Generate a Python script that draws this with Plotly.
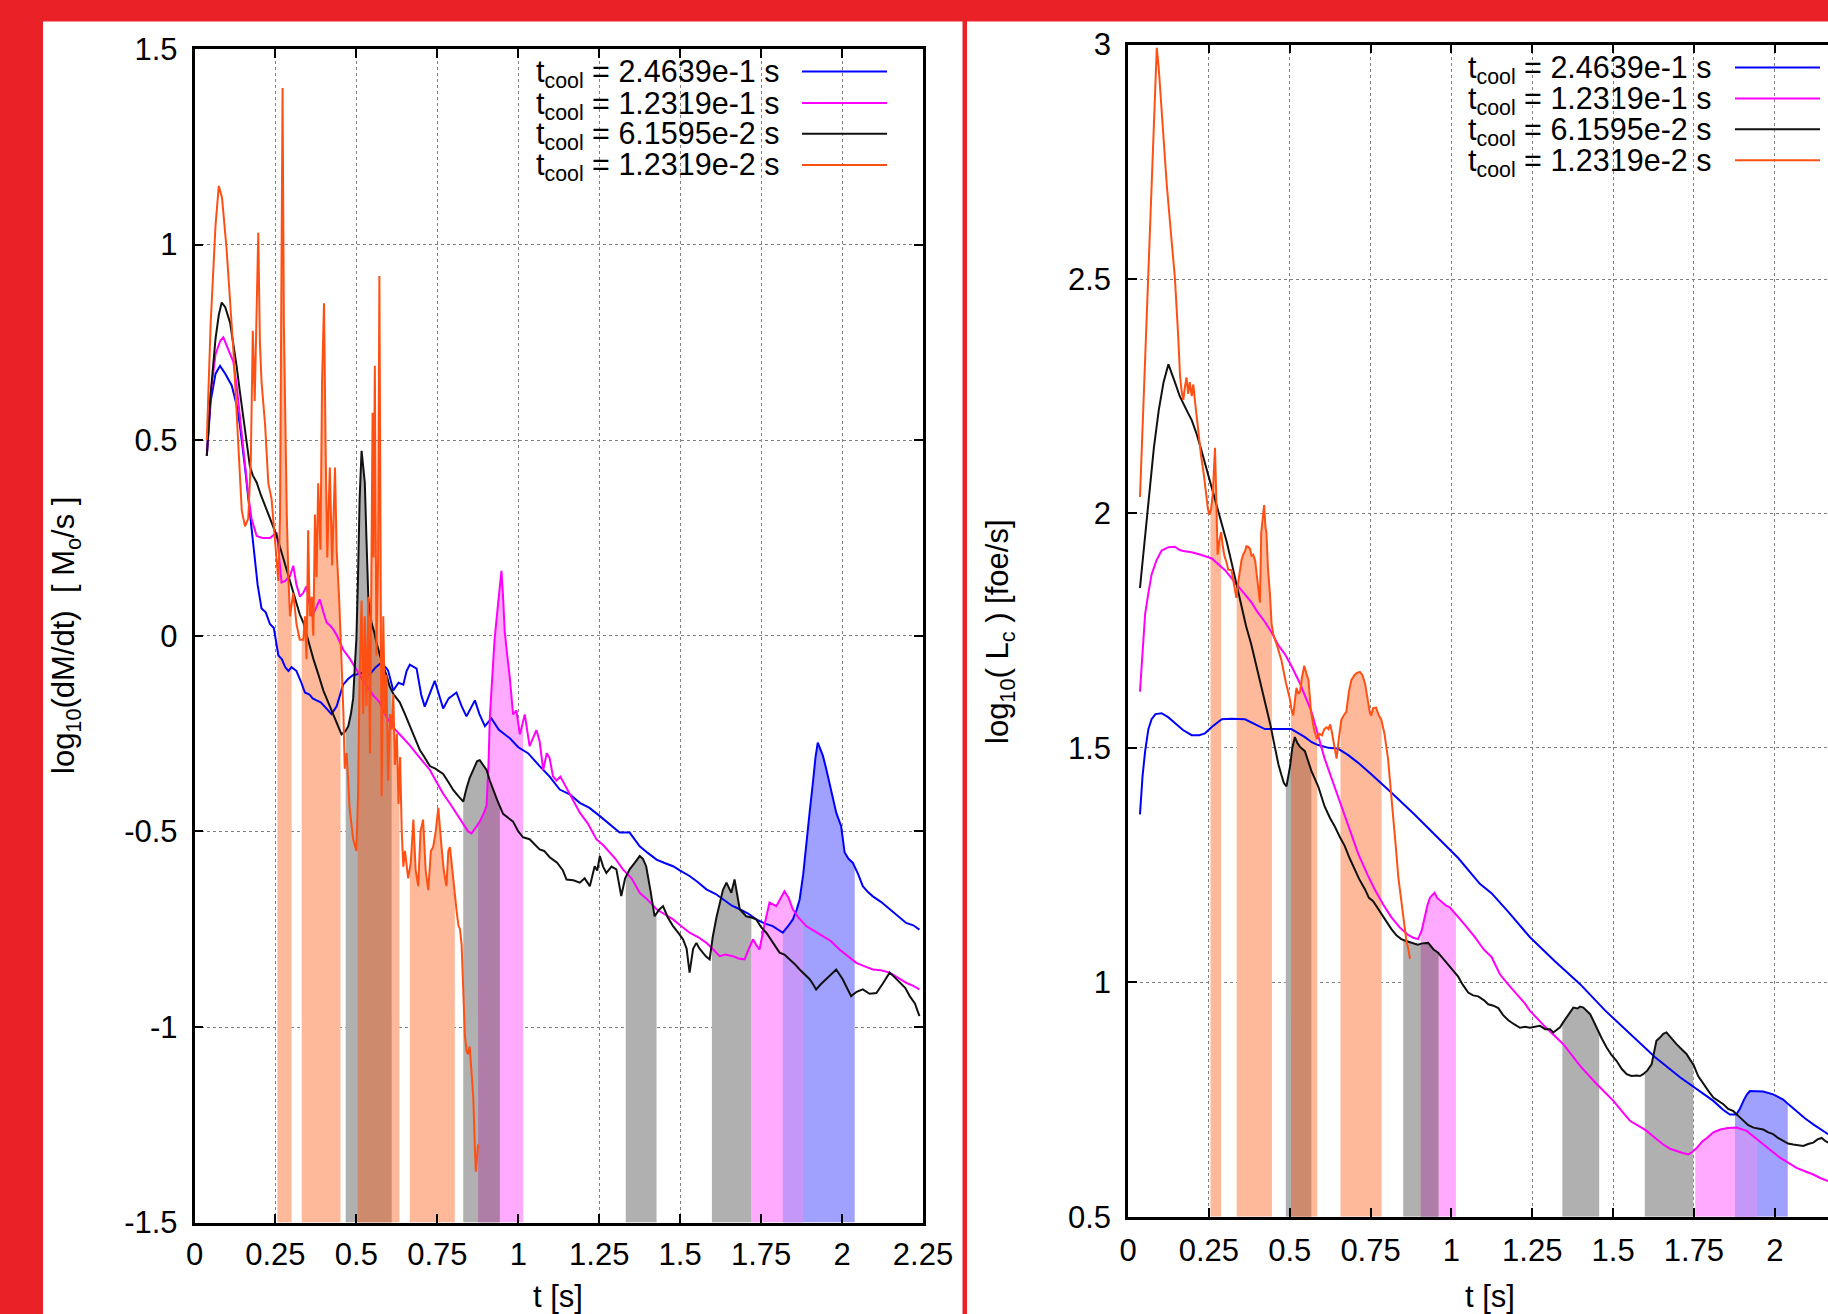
import numpy as np
import plotly.graph_objects as go

W, H = 1828, 1314
FONT = "Liberation Sans, Arial, Helvetica, sans-serif"

# ---------------- LEFT PANEL: log10(dM/dt) [Msun/s] ----------------
dm_blue_t = [0.038,0.05,0.065,0.079,0.095,0.115,0.13,0.14,0.156,0.171,0.185,0.195,0.207,0.22,0.233,0.245,0.259,0.27,0.28,0.29,0.30,0.315,0.33,0.341,0.355,0.365,0.377,0.39,0.408,0.423,0.439,0.45,0.459,0.475,0.49,0.50,0.521,0.54,0.56,0.575,0.59,0.598,0.614,0.63,0.645,0.655,0.665,0.686,0.70,0.711,0.725,0.742,0.755,0.768,0.785,0.809,0.825,0.84,0.866,0.88,0.897,0.917,0.94,0.974,1.00,1.03,1.066,1.097,1.128,1.159,1.19,1.22,1.252,1.28,1.313,1.344,1.375,1.40,1.427,1.45,1.478,1.50,1.529,1.555,1.581,1.61,1.632,1.66,1.684,1.71,1.735,1.76,1.786,1.80,1.817,1.835,1.848,1.86,1.869,1.88,1.889,1.90,1.91,1.918,1.925,1.933,1.941,1.951,1.961,1.972,1.982,1.997,2.008,2.02,2.033,2.05,2.064,2.08,2.095,2.12,2.147,2.17,2.198,2.22,2.239]
dm_blue_y = [0.46,0.60,0.67,0.69,0.67,0.64,0.59,0.54,0.43,0.31,0.20,0.13,0.07,0.06,0.03,0.02,-0.05,-0.06,-0.08,-0.09,-0.08,-0.09,-0.12,-0.145,-0.15,-0.16,-0.165,-0.17,-0.186,-0.20,-0.18,-0.15,-0.125,-0.11,-0.10,-0.099,-0.094,-0.10,-0.08,-0.07,-0.08,-0.089,-0.14,-0.12,-0.125,-0.09,-0.074,-0.084,-0.15,-0.181,-0.15,-0.115,-0.15,-0.186,-0.16,-0.145,-0.18,-0.206,-0.165,-0.20,-0.231,-0.211,-0.24,-0.262,-0.285,-0.30,-0.333,-0.36,-0.393,-0.405,-0.427,-0.44,-0.461,-0.48,-0.503,-0.503,-0.538,-0.555,-0.572,-0.58,-0.589,-0.60,-0.614,-0.63,-0.648,-0.66,-0.674,-0.69,-0.699,-0.71,-0.725,-0.735,-0.742,-0.75,-0.759,-0.74,-0.725,-0.70,-0.674,-0.61,-0.529,-0.45,-0.375,-0.31,-0.273,-0.29,-0.307,-0.34,-0.375,-0.415,-0.452,-0.486,-0.554,-0.57,-0.58,-0.61,-0.64,-0.655,-0.666,-0.68,-0.699,-0.715,-0.734,-0.74,-0.751]

dm_mag_t = [0.038,0.05,0.065,0.08,0.089,0.10,0.12,0.13,0.14,0.156,0.166,0.176,0.192,0.21,0.233,0.254,0.262,0.269,0.28,0.295,0.305,0.315,0.326,0.336,0.346,0.355,0.362,0.375,0.387,0.398,0.408,0.42,0.428,0.439,0.459,0.48,0.495,0.511,0.525,0.542,0.555,0.572,0.585,0.603,0.62,0.645,0.665,0.686,0.705,0.727,0.745,0.768,0.79,0.809,0.83,0.845,0.856,0.868,0.881,0.895,0.902,0.908,0.912,0.92,0.927,0.935,0.943,0.948,0.953,0.958,0.966,0.974,0.984,0.994,1.005,1.02,1.035,1.056,1.066,1.077,1.088,1.097,1.107,1.118,1.13,1.149,1.17,1.19,1.215,1.241,1.262,1.282,1.30,1.323,1.35,1.375,1.40,1.427,1.45,1.478,1.50,1.529,1.555,1.581,1.60,1.622,1.64,1.663,1.68,1.699,1.712,1.725,1.735,1.745,1.76,1.776,1.797,1.81,1.822,1.835,1.848,1.865,1.889,1.915,1.941,1.965,1.992,2.02,2.044,2.07,2.095,2.12,2.147,2.175,2.198,2.22,2.239]
dm_mag_y = [0.46,0.62,0.72,0.755,0.763,0.74,0.70,0.64,0.56,0.43,0.36,0.30,0.255,0.25,0.25,0.264,0.20,0.136,0.14,0.153,0.179,0.13,0.10,0.11,0.127,0.08,0.05,0.07,0.093,0.06,0.034,0.025,0.017,0.002,-0.035,-0.059,-0.08,-0.099,-0.12,-0.14,-0.155,-0.17,-0.195,-0.221,-0.24,-0.262,-0.28,-0.302,-0.32,-0.343,-0.37,-0.404,-0.43,-0.455,-0.48,-0.50,-0.505,-0.49,-0.475,-0.45,-0.434,-0.33,-0.211,-0.10,-0.008,0.06,0.13,0.166,0.10,0.012,-0.05,-0.109,-0.201,-0.191,-0.252,-0.201,-0.282,-0.241,-0.27,-0.343,-0.30,-0.313,-0.359,-0.37,-0.36,-0.39,-0.42,-0.452,-0.48,-0.52,-0.535,-0.554,-0.57,-0.597,-0.62,-0.657,-0.675,-0.699,-0.71,-0.725,-0.74,-0.759,-0.77,-0.785,-0.80,-0.819,-0.815,-0.819,-0.825,-0.827,-0.80,-0.776,-0.79,-0.802,-0.74,-0.682,-0.691,-0.67,-0.653,-0.67,-0.699,-0.72,-0.742,-0.755,-0.768,-0.78,-0.802,-0.82,-0.836,-0.845,-0.853,-0.855,-0.861,-0.875,-0.887,-0.895,-0.904]

dm_blk_t = [0.038,0.05,0.065,0.075,0.084,0.095,0.11,0.12,0.13,0.14,0.151,0.161,0.171,0.18,0.192,0.205,0.223,0.238,0.254,0.27,0.285,0.30,0.315,0.325,0.336,0.35,0.367,0.383,0.398,0.413,0.428,0.44,0.454,0.465,0.475,0.483,0.49,0.495,0.50,0.505,0.51,0.516,0.521,0.526,0.531,0.537,0.547,0.555,0.562,0.572,0.583,0.593,0.603,0.615,0.634,0.65,0.665,0.68,0.696,0.71,0.727,0.745,0.768,0.785,0.799,0.815,0.83,0.84,0.85,0.865,0.873,0.881,0.89,0.902,0.912,0.922,0.935,0.953,0.97,0.984,1.0,1.015,1.035,1.056,1.066,1.08,1.097,1.107,1.12,1.138,1.149,1.17,1.19,1.205,1.221,1.236,1.244,1.252,1.262,1.272,1.288,1.303,1.318,1.33,1.344,1.36,1.375,1.385,1.395,1.408,1.421,1.435,1.447,1.462,1.478,1.495,1.509,1.52,1.529,1.54,1.55,1.56,1.57,1.58,1.591,1.601,1.612,1.622,1.632,1.643,1.65,1.658,1.668,1.676,1.684,1.704,1.72,1.735,1.75,1.766,1.786,1.807,1.822,1.838,1.855,1.869,1.885,1.90,1.91,1.92,1.935,1.951,1.965,1.982,2.002,2.015,2.028,2.045,2.064,2.085,2.106,2.125,2.147,2.165,2.178,2.195,2.209,2.225,2.239]
dm_blk_y = [0.46,0.62,0.76,0.82,0.852,0.84,0.80,0.75,0.69,0.625,0.562,0.50,0.434,0.41,0.392,0.36,0.324,0.29,0.255,0.21,0.17,0.125,0.085,0.055,0.034,-0.01,-0.059,-0.10,-0.14,-0.17,-0.201,-0.225,-0.252,-0.245,-0.231,-0.20,-0.16,-0.08,-0.008,0.15,0.35,0.473,0.43,0.392,0.25,0.093,0.032,0.01,-0.018,-0.05,-0.079,-0.10,-0.13,-0.15,-0.17,-0.20,-0.231,-0.26,-0.292,-0.31,-0.333,-0.34,-0.353,-0.375,-0.394,-0.41,-0.424,-0.39,-0.363,-0.335,-0.32,-0.318,-0.33,-0.343,-0.37,-0.394,-0.42,-0.455,-0.465,-0.475,-0.50,-0.515,-0.52,-0.536,-0.546,-0.55,-0.566,-0.572,-0.58,-0.60,-0.623,-0.625,-0.631,-0.62,-0.64,-0.589,-0.60,-0.563,-0.59,-0.606,-0.59,-0.597,-0.665,-0.62,-0.597,-0.58,-0.563,-0.57,-0.589,-0.65,-0.717,-0.70,-0.691,-0.72,-0.742,-0.76,-0.776,-0.80,-0.861,-0.80,-0.785,-0.80,-0.81,-0.82,-0.827,-0.768,-0.72,-0.682,-0.65,-0.631,-0.645,-0.657,-0.623,-0.66,-0.699,-0.717,-0.72,-0.725,-0.745,-0.759,-0.785,-0.81,-0.815,-0.827,-0.84,-0.853,-0.865,-0.878,-0.89,-0.904,-0.89,-0.878,-0.865,-0.853,-0.878,-0.90,-0.921,-0.91,-0.904,-0.915,-0.913,-0.89,-0.861,-0.875,-0.887,-0.90,-0.921,-0.94,-0.972]

dm_org_t = [0.038,0.05,0.065,0.075,0.085,0.099,0.12,0.135,0.146,0.156,0.166,0.174,0.18,0.186,0.19,0.197,0.202,0.207,0.218,0.228,0.238,0.248,0.259,0.264,0.269,0.272,0.276,0.282,0.285,0.29,0.295,0.305,0.315,0.325,0.336,0.341,0.346,0.351,0.356,0.362,0.367,0.372,0.377,0.382,0.389,0.394,0.40,0.405,0.41,0.418,0.425,0.434,0.439,0.447,0.454,0.46,0.464,0.47,0.479,0.49,0.50,0.505,0.51,0.516,0.521,0.526,0.531,0.537,0.542,0.547,0.55,0.553,0.557,0.562,0.567,0.571,0.575,0.578,0.583,0.588,0.593,0.598,0.604,0.609,0.614,0.619,0.625,0.63,0.635,0.64,0.645,0.65,0.66,0.668,0.676,0.683,0.691,0.698,0.706,0.714,0.722,0.73,0.737,0.745,0.753,0.758,0.763,0.77,0.778,0.784,0.789,0.794,0.799,0.805,0.809,0.815,0.82,0.825,0.83,0.835,0.84,0.845,0.85,0.856,0.861,0.866,0.869,0.873,0.876]
dm_org_y = [0.50,0.80,1.05,1.15,1.12,0.99,0.73,0.48,0.32,0.28,0.30,0.45,0.78,0.60,0.73,1.03,0.75,0.65,0.54,0.39,0.35,0.24,0.14,0.30,0.90,1.40,0.80,0.40,0.31,0.15,0.05,0.11,0.03,-0.01,-0.01,0.05,-0.06,0.27,0.05,0.10,0.0,0.31,0.15,0.39,0.22,0.65,0.85,0.48,0.20,0.43,0.18,0.43,0.22,0.09,-0.06,-0.20,-0.34,-0.30,-0.44,-0.52,-0.55,-0.41,-0.10,0.09,-0.20,0.05,-0.18,0.10,-0.30,0.30,0.57,0.20,0.69,-0.05,0.20,0.92,0.10,-0.41,0.05,-0.20,-0.10,-0.37,-0.20,-0.24,-0.15,-0.33,-0.25,-0.43,-0.31,-0.50,-0.59,-0.55,-0.62,-0.58,-0.47,-0.60,-0.64,-0.50,-0.47,-0.60,-0.65,-0.55,-0.54,-0.50,-0.44,-0.50,-0.54,-0.60,-0.64,-0.55,-0.54,-0.58,-0.62,-0.68,-0.70,-0.74,-0.75,-0.79,-0.92,-1.02,-1.06,-1.07,-1.05,-1.12,-1.18,-1.31,-1.37,-1.33,-1.30]

dm_orange_bands = [[0.256, 0.300], [0.331, 0.451], [0.503, 0.633], [0.665, 0.804]]
dm_grey_bands = [[0.467, 0.609], [0.830, 0.943], [1.332, 1.427], [1.598, 1.720]]
dm_pink_bands = [[0.876, 1.015], [1.720, 1.879]]
dm_blue_bands = [[1.817, 2.039]]

# ---------------- RIGHT PANEL: log10(L_c) [foe/s] ----------------
lc_blue_t = [0.037,0.045,0.053,0.063,0.073,0.085,0.104,0.125,0.145,0.17,0.197,0.22,0.238,0.26,0.29,0.32,0.362,0.39,0.423,0.46,0.505,0.525,0.547,0.568,0.588,0.62,0.65,0.68,0.712,0.753,0.814,0.886,0.959,1.021,1.088,1.124,1.176,1.227,1.243,1.32,1.398,1.475,1.553,1.63,1.708,1.76,1.81,1.84,1.861,1.881,1.892,1.903,1.913,1.923,1.944,1.964,1.995,2.026,2.045,2.067,2.093,2.119,2.142,2.165]
lc_blue_y = [1.358,1.44,1.493,1.54,1.561,1.572,1.574,1.565,1.553,1.538,1.527,1.527,1.531,1.545,1.561,1.562,1.561,1.552,1.54,1.54,1.54,1.532,1.523,1.512,1.506,1.50,1.498,1.485,1.468,1.443,1.405,1.358,1.308,1.265,1.21,1.19,1.15,1.109,1.096,1.045,0.996,0.94,0.889,0.84,0.797,0.772,0.747,0.728,0.718,0.718,0.73,0.747,0.76,0.768,0.768,0.767,0.761,0.75,0.738,0.725,0.71,0.697,0.686,0.676]

lc_mag_t = [0.037,0.045,0.053,0.063,0.073,0.088,0.104,0.125,0.145,0.16,0.171,0.197,0.225,0.259,0.28,0.30,0.32,0.341,0.36,0.381,0.40,0.423,0.445,0.464,0.485,0.505,0.53,0.567,0.608,0.635,0.66,0.685,0.712,0.74,0.763,0.79,0.814,0.84,0.866,0.882,0.897,0.908,0.918,0.926,0.934,0.948,0.956,0.964,0.972,0.983,0.995,1.008,1.021,1.045,1.072,1.088,1.10,1.124,1.15,1.176,1.2,1.227,1.243,1.29,1.346,1.40,1.449,1.475,1.501,1.527,1.553,1.58,1.604,1.63,1.655,1.676,1.696,1.715,1.733,1.745,1.759,1.775,1.79,1.81,1.831,1.855,1.882,1.913,1.94,1.964,1.99,2.016,2.04,2.067,2.093,2.119,2.142,2.165]
lc_mag_y = [1.62,1.71,1.786,1.83,1.87,1.90,1.921,1.928,1.929,1.922,1.92,1.917,1.912,1.904,1.892,1.879,1.862,1.845,1.828,1.811,1.79,1.769,1.745,1.72,1.70,1.675,1.64,1.578,1.477,1.425,1.375,1.325,1.274,1.23,1.198,1.165,1.139,1.117,1.101,1.095,1.092,1.11,1.139,1.165,1.181,1.191,1.18,1.175,1.17,1.164,1.16,1.15,1.139,1.12,1.097,1.081,1.07,1.054,1.017,0.995,0.975,0.955,0.939,0.905,0.868,0.82,0.783,0.765,0.747,0.725,0.704,0.693,0.683,0.668,0.654,0.645,0.64,0.636,0.633,0.638,0.647,0.66,0.668,0.68,0.686,0.689,0.69,0.683,0.668,0.654,0.64,0.626,0.615,0.604,0.597,0.59,0.582,0.576]

lc_blk_t = [0.037,0.05,0.065,0.08,0.095,0.11,0.125,0.135,0.145,0.16,0.171,0.185,0.197,0.212,0.228,0.245,0.259,0.275,0.29,0.305,0.32,0.335,0.351,0.365,0.381,0.40,0.423,0.44,0.454,0.465,0.474,0.482,0.49,0.496,0.501,0.508,0.516,0.524,0.532,0.547,0.557,0.567,0.588,0.608,0.625,0.639,0.655,0.67,0.685,0.701,0.715,0.733,0.745,0.758,0.77,0.783,0.8,0.814,0.83,0.845,0.86,0.876,0.896,0.91,0.928,0.945,0.959,0.975,0.99,1.005,1.021,1.035,1.052,1.067,1.083,1.1,1.114,1.13,1.145,1.16,1.176,1.195,1.212,1.228,1.243,1.258,1.274,1.29,1.305,1.315,1.326,1.336,1.346,1.356,1.367,1.377,1.39,1.398,1.408,1.418,1.429,1.439,1.449,1.465,1.48,1.495,1.511,1.527,1.542,1.557,1.573,1.583,1.593,1.606,1.619,1.627,1.634,1.645,1.655,1.665,1.675,1.686,1.696,1.712,1.727,1.738,1.748,1.763,1.779,1.795,1.81,1.825,1.841,1.856,1.872,1.887,1.903,1.918,1.934,1.949,1.964,1.98,1.995,2.01,2.026,2.041,2.057,2.072,2.088,2.103,2.119,2.132,2.145,2.155,2.165]
lc_blk_y = [1.841,1.93,2.04,2.14,2.22,2.28,2.318,2.30,2.28,2.25,2.233,2.215,2.199,2.17,2.132,2.09,2.056,2.02,1.98,1.94,1.896,1.85,1.803,1.76,1.721,1.665,1.603,1.55,1.502,1.465,1.443,1.425,1.418,1.44,1.46,1.50,1.523,1.51,1.502,1.493,1.47,1.451,1.418,1.375,1.35,1.333,1.31,1.291,1.265,1.24,1.22,1.198,1.18,1.173,1.16,1.147,1.13,1.114,1.10,1.092,1.088,1.084,1.08,1.083,1.084,1.07,1.063,1.05,1.037,1.025,1.012,0.995,0.978,0.972,0.97,0.962,0.953,0.95,0.945,0.93,0.919,0.91,0.903,0.905,0.903,0.905,0.907,0.90,0.90,0.893,0.898,0.904,0.915,0.925,0.935,0.946,0.944,0.948,0.946,0.94,0.932,0.918,0.903,0.88,0.861,0.845,0.832,0.815,0.804,0.80,0.801,0.80,0.804,0.812,0.825,0.85,0.875,0.882,0.89,0.893,0.885,0.875,0.868,0.857,0.847,0.835,0.825,0.80,0.783,0.768,0.754,0.748,0.74,0.73,0.725,0.715,0.704,0.695,0.69,0.688,0.686,0.68,0.676,0.668,0.661,0.656,0.654,0.652,0.651,0.655,0.658,0.665,0.668,0.662,0.658]

lc_org_t = [0.037,0.05,0.063,0.075,0.083,0.089,0.095,0.105,0.12,0.135,0.145,0.155,0.161,0.166,0.171,0.176,0.181,0.186,0.191,0.197,0.202,0.207,0.215,0.226,0.235,0.241,0.247,0.252,0.257,0.262,0.266,0.269,0.272,0.277,0.282,0.288,0.293,0.298,0.305,0.31,0.32,0.327,0.335,0.34,0.346,0.351,0.356,0.362,0.366,0.371,0.377,0.382,0.387,0.393,0.398,0.403,0.408,0.412,0.416,0.421,0.425,0.428,0.433,0.439,0.444,0.45,0.46,0.474,0.488,0.501,0.506,0.511,0.516,0.521,0.527,0.532,0.538,0.545,0.551,0.558,0.562,0.566,0.575,0.584,0.592,0.6,0.607,0.614,0.62,0.625,0.63,0.636,0.641,0.645,0.652,0.66,0.668,0.675,0.683,0.691,0.7,0.708,0.717,0.725,0.733,0.742,0.748,0.752,0.758,0.767,0.775,0.783,0.793,0.804,0.812,0.82,0.828,0.836,0.844,0.851,0.856,0.861,0.867,0.872]
lc_org_y = [2.035,2.27,2.52,2.75,2.90,2.993,2.95,2.85,2.70,2.58,2.503,2.38,2.292,2.26,2.242,2.27,2.29,2.255,2.28,2.25,2.275,2.24,2.19,2.123,2.08,2.039,2.01,1.997,2.01,2.04,2.09,2.14,2.06,1.912,1.94,1.96,1.93,1.91,1.895,1.88,1.879,1.85,1.82,1.85,1.879,1.90,1.912,1.92,1.93,1.929,1.925,1.91,1.912,1.90,1.87,1.84,1.81,1.96,1.99,2.018,1.97,1.96,1.88,1.828,1.764,1.74,1.72,1.688,1.64,1.603,1.58,1.569,1.60,1.628,1.615,1.62,1.65,1.675,1.66,1.645,1.61,1.577,1.54,1.519,1.53,1.527,1.54,1.544,1.54,1.55,1.535,1.51,1.49,1.477,1.52,1.561,1.57,1.577,1.62,1.645,1.655,1.66,1.662,1.655,1.637,1.60,1.575,1.569,1.585,1.586,1.57,1.561,1.53,1.477,1.42,1.35,1.29,1.223,1.18,1.139,1.11,1.088,1.07,1.05]

lc_orange_bands = [[0.255, 0.288], [0.336, 0.445], [0.504, 0.585], [0.657, 0.784]]
lc_grey_bands = [[0.488, 0.567], [0.851, 0.960], [1.343, 1.457], [1.598, 1.748]]
lc_pink_bands = [[0.905, 1.014], [1.754, 1.944]]
lc_blue_bands = [[1.877, 2.040]]

# ---------------- ticks / labels ----------------
x_tickvals = [0, 0.25, 0.5, 0.75, 1, 1.25, 1.5, 1.75, 2, 2.25]
x_ticktext = ["0", "0.25", "0.5", "0.75", "1", "1.25", "1.5", "1.75", "2", "2.25"]
dm_tickvals = [-1.5, -1, -0.5, 0, 0.5, 1, 1.5]
dm_ticktext = ["-1.5", "-1", "-0.5", "0", "0.5", "1", "1.5"]
lc_tickvals = [0.5, 1, 1.5, 2, 2.5, 3]
lc_ticktext = ["0.5", "1", "1.5", "2", "2.5", "3"]
legend_labels = ["t<sub>cool</sub> = 2.4639e-1 s", "t<sub>cool</sub> = 1.2319e-1 s",
                 "t<sub>cool</sub> = 6.1595e-2 s", "t<sub>cool</sub> = 1.2319e-2 s"]
line_colors = ["#0000ff", "#ff00ff", "#111111", "#ff5014"]
# shaded-interval colours (single and overlapping)
band_colors = {"blue": "#a0a0ff", "pink": "#ffaaff", "grey": "#b0b0b0", "orange": "#fdb99a"}
overlap_colors = {("grey", "orange"): "#cd8a6c", ("grey", "pink"): "#b07ca8", ("pink", "blue"): "#c497f8"}

# ---------------- helpers ----------------
def px(x):
    return x / W

def py(y):
    return 1 - y / H

def band_poly(t, y, a, b, base):
    t = np.asarray(t, float)
    y = np.asarray(y, float)
    m = (t > a) & (t < b)
    xs = [a] + list(t[m]) + [b, b, a]
    ys = [float(np.interp(a, t, y))] + list(y[m]) + [float(np.interp(b, t, y)), base, base]
    return xs, ys

def overlap_poly(c1, c2, a, b, base):
    t1, y1 = np.asarray(c1[0], float), np.asarray(c1[1], float)
    t2, y2 = np.asarray(c2[0], float), np.asarray(c2[1], float)
    ts = sorted(set([a, b] + [v for v in t1 if a < v < b] + [v for v in t2 if a < v < b]))
    top = np.minimum(np.interp(ts, t1, y1), np.interp(ts, t2, y2))
    return list(ts) + [b, a], list(top) + [base, base]

fig = go.Figure()

panels = [
    dict(xa="x", ya="y", base=-1.5,
         curves={"blue": (dm_blue_t, dm_blue_y), "pink": (dm_mag_t, dm_mag_y),
                 "grey": (dm_blk_t, dm_blk_y), "orange": (dm_org_t, dm_org_y)},
         bands={"blue": dm_blue_bands, "pink": dm_pink_bands, "grey": dm_grey_bands, "orange": dm_orange_bands}),
    dict(xa="x2", ya="y2", base=0.5,
         curves={"blue": (lc_blue_t, lc_blue_y), "pink": (lc_mag_t, lc_mag_y),
                 "grey": (lc_blk_t, lc_blk_y), "orange": (lc_org_t, lc_org_y)},
         bands={"blue": lc_blue_bands, "pink": lc_pink_bands, "grey": lc_grey_bands, "orange": lc_orange_bands}),
]

order = ["blue", "pink", "grey", "orange"]
for p in panels:
    for cname in order:
        t, y = p["curves"][cname]
        for a, b in p["bands"][cname]:
            xs, ys = band_poly(t, y, a, b, p["base"])
            fig.add_trace(go.Scatter(x=xs, y=ys, mode="lines", fill="toself",
                                     fillcolor=band_colors[cname], line=dict(width=0),
                                     hoverinfo="skip", showlegend=False,
                                     xaxis=p["xa"], yaxis=p["ya"]))
    for (c1, c2), col in overlap_colors.items():
        for a1, b1 in p["bands"][c1]:
            for a2, b2 in p["bands"][c2]:
                a, b = max(a1, a2), min(b1, b2)
                if b > a:
                    xs, ys = overlap_poly(p["curves"][c1], p["curves"][c2], a, b, p["base"])
                    fig.add_trace(go.Scatter(x=xs, y=ys, mode="lines", fill="toself",
                                             fillcolor=col, line=dict(width=0),
                                             hoverinfo="skip", showlegend=False,
                                             xaxis=p["xa"], yaxis=p["ya"]))
    for i, cname in enumerate(order):
        t, y = p["curves"][cname]
        fig.add_trace(go.Scatter(x=t, y=y, mode="lines",
                                 line=dict(color=line_colors[i], width=2),
                                 hoverinfo="skip", showlegend=False,
                                 xaxis=p["xa"], yaxis=p["ya"]))

tickfont = dict(family=FONT, size=31, color="black")
common = dict(showline=True, linecolor="black", linewidth=2.5, ticks="inside", ticklen=9,
              tickwidth=2, tickcolor="black", showgrid=True, gridcolor="#808080",
              griddash="dot", gridwidth=1.3, zeroline=False, tickfont=tickfont,
              automargin=False)

R_SCALE = 323.4  # px per unit t in right panel
fig.update_layout(
    template="none",
    width=W, height=H, autosize=False,
    margin=dict(l=0, r=0, t=0, b=0, pad=0, autoexpand=False),
    paper_bgcolor="#ea2227", plot_bgcolor="rgba(0,0,0,0)",
    showlegend=False,
    xaxis=dict(domain=[px(194.5), px(923)], range=[0, 2.25], tickvals=x_tickvals,
               ticktext=x_ticktext, mirror="ticks", anchor="y", ticklabelstandoff=2, **common),
    yaxis=dict(domain=[py(1222.6), py(49)], range=[-1.5, 1.5], tickvals=dm_tickvals,
               ticktext=dm_ticktext, mirror="ticks", anchor="x", ticklabelstandoff=8, **common),
    xaxis2=dict(domain=[px(1128), 1.0], range=[0, (W - 1128) / R_SCALE], tickvals=x_tickvals[:-1],
                ticktext=x_ticktext[:-1], mirror="ticks", anchor="y2", ticklabelstandoff=4, **common),
    yaxis2=dict(domain=[py(1216.7), py(44.6)], range=[0.5, 3], tickvals=lc_tickvals,
                ticktext=lc_ticktext, mirror=False, anchor="x2", ticklabelstandoff=8, **common),
)

shapes = [
    # white panels
    dict(type="rect", xref="paper", yref="paper", x0=px(43), x1=px(962.5), y0=0, y1=py(21.5),
         fillcolor="white", line=dict(width=0), layer="below"),
    dict(type="rect", xref="paper", yref="paper", x0=px(967), x1=1.0, y0=0, y1=py(21.5),
         fillcolor="white", line=dict(width=0), layer="below"),
    # opaque key boxes
    dict(type="rect", xref="paper", yref="paper", x0=px(512), x1=px(921.5), y0=py(182), y1=py(50.5),
         fillcolor="white", line=dict(width=0), layer="between"),
    dict(type="rect", xref="paper", yref="paper", x0=px(1445), x1=1.0, y0=py(178), y1=py(46),
         fillcolor="white", line=dict(width=0), layer="between"),
]

annotations = []
left_rows = [71.5, 103, 133.8, 165]
right_rows = [67.5, 98.5, 129.3, 160.2]
for i, lab in enumerate(legend_labels):
    annotations.append(dict(xref="paper", yref="paper", x=px(782), y=py(left_rows[i] + 2), text=lab,
                            showarrow=False, xanchor="right", yanchor="middle",
                            font=dict(family=FONT, size=30.5, color="black")))
    shapes.append(dict(type="line", xref="paper", yref="paper", x0=px(802), x1=px(887),
                       y0=py(left_rows[i]), y1=py(left_rows[i]), line=dict(color=line_colors[i], width=2)))
    annotations.append(dict(xref="paper", yref="paper", x=px(1714), y=py(right_rows[i] + 2), text=lab,
                            showarrow=False, xanchor="right", yanchor="middle",
                            font=dict(family=FONT, size=30.5, color="black")))
    shapes.append(dict(type="line", xref="paper", yref="paper", x0=px(1735), x1=px(1820),
                       y0=py(right_rows[i]), y1=py(right_rows[i]), line=dict(color=line_colors[i], width=2)))

titlefont = dict(family=FONT, size=31, color="black")
annotations += [
    dict(xref="paper", yref="paper", x=px(66), y=py(636), text="log<sub>10</sub>(dM/dt)  [ M<sub>o</sub>/s ]",
         textangle=-90, showarrow=False, xanchor="center", yanchor="middle", font=titlefont),
    dict(xref="paper", yref="paper", x=px(1000), y=py(631), text="log<sub>10</sub>( L<sub>c</sub> ) [foe/s]",
         textangle=-90, showarrow=False, xanchor="center", yanchor="middle", font=titlefont),
    dict(xref="paper", yref="paper", x=px(558), y=py(1296), text="t [s]",
         showarrow=False, xanchor="center", yanchor="middle", font=titlefont),
    dict(xref="paper", yref="paper", x=px(1490), y=py(1296), text="t [s]",
         showarrow=False, xanchor="center", yanchor="middle", font=titlefont),
]

fig.update_layout(shapes=shapes, annotations=annotations)
fig.write_html("out.html")
